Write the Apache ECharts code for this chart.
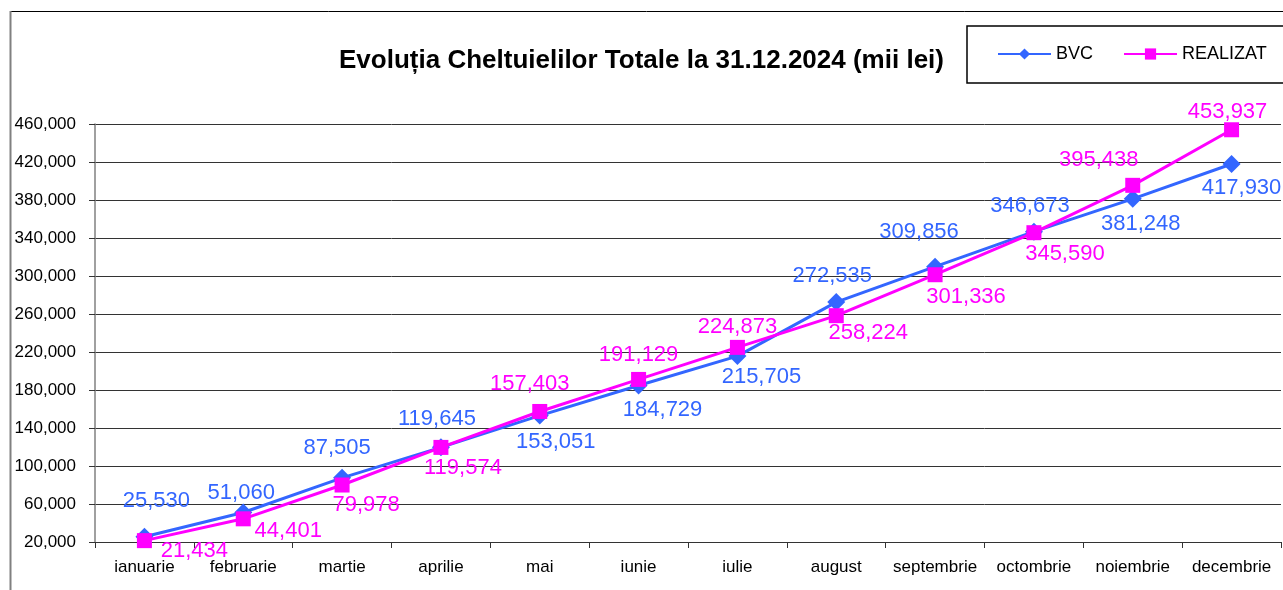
<!DOCTYPE html>
<html>
<head>
<meta charset="utf-8">
<script src="https://cdn.jsdelivr.net/npm/echarts@6/dist/echarts.min.js"></script>
<style>
html,body{margin:0;padding:0;background:#fff;}
#chart{width:1283px;height:590px;}
</style>
</head>
<body>
<div id="chart"></div>
<script>
const categories = ['ianuarie','februarie','martie','aprilie','mai','iunie','iulie','august','septembrie','octombrie','noiembrie','decembrie'];
const bvc = [25530, 51060, 87505, 119645, 153051, 184729, 215705, 272535, 309856, 346673, 381248, 417930];
const realizat = [21434, 44401, 79978, 119574, 157403, 191129, 224873, 258224, 301336, 345590, 395438, 453937];
const yTicks = {min: 20000, max: 460000, interval: 40000};

// label placement offsets (label centre relative to point)
const bvcLabelOffsets = [[12,-36],[-2,-20],[-5,-30],[-4,-28],[16,26],[24,24],[24,21],[-4,-26],[-16,-35],[-4,-26],[8,25],[10,24]];
const realLabelOffsets = [[50,10],[45,12],[24,20],[22,21],[-10,-28],[0,-24],[0,-20],[32,17],[31,22],[31,21],[-34,-25],[-4,-18]];

const fmt = v => v.toLocaleString('en-US');
const FONT = '"Liberation Sans", Arial, sans-serif';

function buildData(vals, offs){
  return vals.map((v,i)=>({value:v, label:{offset:offs[i]}}));
}

const chart = echarts.init(document.getElementById('chart'), null, {renderer:'canvas'});
chart.setOption({
  animation:false,
  backgroundColor:'#fff',
  title:{
    text:'Evoluția Cheltuielilor Totale la 31.12.2024 (mii lei)',
    left:'center', top:43,
    textStyle:{fontFamily:FONT, fontWeight:'bold', fontSize:26, color:'#000'}
  },
  legend:{
    left:997, top:45, padding:0,
    itemWidth:53, itemHeight:14, itemGap:30,
    textStyle:{fontFamily:FONT, fontSize:18, color:'#000'},
    data:['BVC','REALIZAT']
  },
  graphic:[
    {type:'line', shape:{x1:10,y1:11.5,x2:1283,y2:11.5}, style:{stroke:'#000', lineWidth:1}, z:-1},
    {type:'line', shape:{x1:10.5,y1:11,x2:10.5,y2:590}, style:{stroke:'#808080', lineWidth:2}, z:-1},
    {type:'rect', shape:{x:967,y:26,width:330,height:57}, style:{fill:'#fff', stroke:'#000', lineWidth:1.5}, z:-1}
  ],
  grid:{left:95, right:2, top:124, bottom:48, containLabel:false},
  xAxis:{
    type:'category', data:categories, boundaryGap:true,
    axisLine:{lineStyle:{color:'#333', width:1}},
    axisTick:{show:true, length:6, lineStyle:{color:'#333'}},
    axisLabel:{fontFamily:FONT, fontSize:17, color:'#000', margin:17, interval:0}
  },
  yAxis:{
    type:'value', min:yTicks.min, max:yTicks.max, interval:yTicks.interval,
    axisLine:{show:true, lineStyle:{color:'#808080', width:1.5}},
    axisTick:{show:true, length:6, lineStyle:{color:'#333'}},
    splitLine:{show:true, lineStyle:{color:'#333', width:1}},
    axisLabel:{fontFamily:FONT, fontSize:17, color:'#000', margin:19, formatter:fmt}
  },
  series:[
    {
      name:'BVC', type:'line', data:buildData(bvc,bvcLabelOffsets),
      symbol:'diamond', symbolSize:18,
      lineStyle:{color:'#3366FF', width:3},
      itemStyle:{color:'#3366FF'},
      label:{show:true, position:'inside', color:'#3366FF', fontFamily:FONT, fontSize:22,
        formatter:p=>fmt(p.value)},
      z:2
    },
    {
      name:'REALIZAT', type:'line', data:buildData(realizat,realLabelOffsets),
      symbol:'rect', symbolSize:15,
      lineStyle:{color:'#FF00FF', width:3},
      itemStyle:{color:'#FF00FF'},
      label:{show:true, position:'inside', color:'#FF00FF', fontFamily:FONT, fontSize:22,
        formatter:p=>fmt(p.value)},
      z:3
    }
  ]
});
</script>
</body>
</html>
